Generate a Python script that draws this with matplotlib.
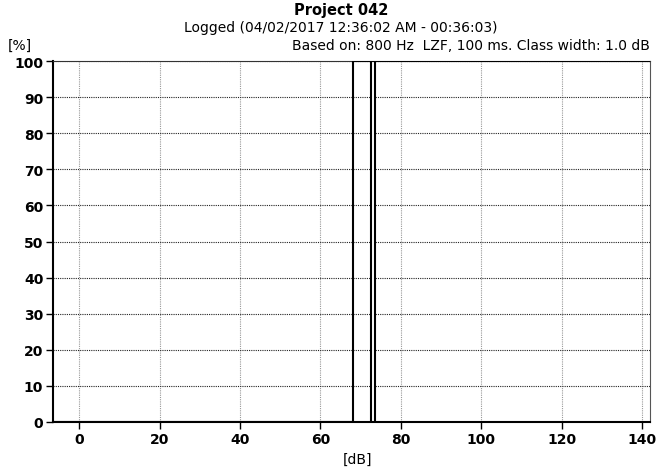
import matplotlib
matplotlib.use("Agg")
import matplotlib.pyplot as plt

# Data
class_centers = [73.0]
class_percent = [100.0]
class_width = 1.0
cum_levels = [-6.5, 68.0, 68.0, 142.0]
cum_percent = [0.0, 0.0, 100.0, 100.0]
x_ticks = [0, 20, 40, 60, 80, 100, 120, 140]
y_ticks = [0, 10, 20, 30, 40, 50, 60, 70, 80, 90, 100]

fig = plt.figure(figsize=(6.64, 4.77), dpi=100)
ax = fig.add_axes([53/664, 1-423/477, (650-53)/664, (423-62)/477])

ax.set_xlim(-6.5, 142)
ax.set_ylim(0, 100)
ax.set_xticks(x_ticks)
ax.set_yticks(y_ticks)

ax.grid(axis='x', color='#999999', linestyle=(0, (1, 1)), linewidth=0.8)
ax.grid(axis='y', color='#222222', linestyle=(0, (1, 1)), linewidth=0.8)
ax.set_axisbelow(True)

ax.bar(class_centers, class_percent, width=class_width, facecolor='white',
       edgecolor='black', linewidth=1.5, zorder=3)
ax.plot(cum_levels, cum_percent, color='black', linewidth=1.5, zorder=3)

for s in ax.spines.values():
    s.set_linewidth(0.8)
ax.spines['left'].set_linewidth(1.5)
ax.spines['bottom'].set_linewidth(1.5)
ax.spines['right'].set_color('#555555')
ax.spines['top'].set_color('#333333')

ax.tick_params(axis='both', direction='out', length=5, width=1, labelsize=10, pad=2)
for lab in ax.get_xticklabels() + ax.get_yticklabels():
    lab.set_fontweight('bold')

fig.text(341/664, 1-10/477, "Project 042", ha='center', va='center',
         fontsize=10.5, fontweight='bold')
fig.text(341/664, 1-28/477, "Logged (04/02/2017 12:36:02 AM - 00:36:03)",
         ha='center', va='center', fontsize=10)
fig.text(650/664, 1-46/477, "Based on: 800 Hz  LZF, 100 ms. Class width: 1.0 dB",
         ha='right', va='center', fontsize=10)
fig.text(8/664, 1-46/477, "[%]", ha='left', va='center', fontsize=10)
fig.text(358/664, 1-460/477, "[dB]", ha='center', va='center', fontsize=10)

fig.savefig("out.png", dpi=100)
